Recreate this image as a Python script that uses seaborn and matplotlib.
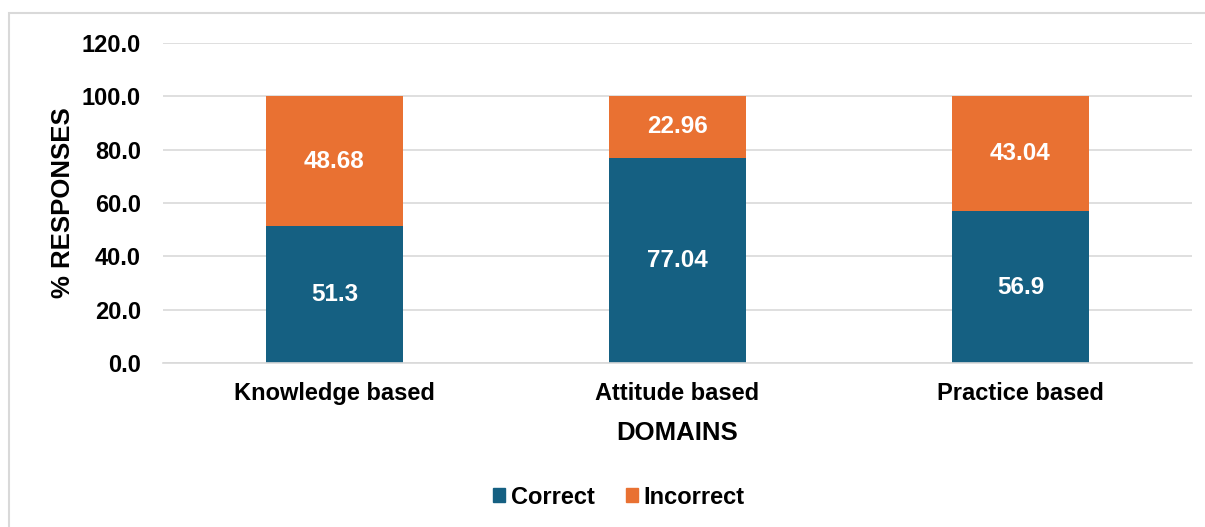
import matplotlib
matplotlib.use("Agg")
import matplotlib.pyplot as plt
import matplotlib.patches as mpatches
import seaborn as sns
import pandas as pd

# values
domains = ["Knowledge based", "Attitude based", "Practice based"]
correct = [51.3, 77.04, 56.9]
incorrect = [48.68, 22.96, 43.04]

BLUE = "#156082"
ORANGE = "#E97132"

sns.set_theme(style="white")
plt.rcParams["font.family"] = ["Liberation Sans", "DejaVu Sans"]
plt.rcParams["font.weight"] = "bold"
plt.rcParams["text.color"] = "black"
plt.rcParams["axes.labelcolor"] = "black"
plt.rcParams["xtick.color"] = "black"
plt.rcParams["ytick.color"] = "black"

df = pd.DataFrame({"domain": domains, "correct": correct, "incorrect": incorrect})
df["total"] = df["correct"] + df["incorrect"]

fig = plt.figure(figsize=(12.05, 5.27), dpi=100)
ax = fig.add_axes([163 / 1205, 1 - 363 / 527, (1192 - 163) / 1205, (363 - 43) / 527])

# stacked bars: total in orange underneath, correct in blue on top of it
sns.barplot(data=df, x="domain", y="total", color=ORANGE, width=0.4,
            saturation=1, ax=ax, linewidth=0)
sns.barplot(data=df, x="domain", y="correct", color=BLUE, width=0.4,
            saturation=1, ax=ax, linewidth=0)

for i, row in df.iterrows():
    ax.text(i, row["correct"] / 2, f"{row['correct']:g}", ha="center", va="center",
            color="white", fontsize=17.5, fontweight="bold")
    ax.text(i, row["correct"] + row["incorrect"] / 2, f"{row['incorrect']:g}",
            ha="center", va="center", color="white", fontsize=17.5, fontweight="bold")

ax.set_xlim(-0.5, 2.5)
ax.set_ylim(0, 120)
ax.set_yticks(range(0, 121, 20))
ax.set_yticklabels([f"{v:.1f}" for v in range(0, 121, 20)])
ax.yaxis.grid(True, color="#D9D9D9", linewidth=1.2)
ax.set_axisbelow(True)
for s in ["top", "right", "left"]:
    ax.spines[s].set_visible(False)
ax.spines["bottom"].set_color("#D9D9D9")
ax.spines["bottom"].set_linewidth(1.2)
ax.tick_params(axis="y", length=0, pad=16, labelsize=17)
ax.tick_params(axis="x", length=0, pad=14, labelsize=17)

ax.set_xlabel("DOMAINS", fontsize=18.5, fontweight="bold", labelpad=11)
ax.set_ylabel("% RESPONSES", fontsize=18.5, fontweight="bold", labelpad=5)

handles = [mpatches.Patch(color=BLUE, label="Correct"),
           mpatches.Patch(color=ORANGE, label="Incorrect")]
fig.legend(handles=handles, loc="center", bbox_to_anchor=(619 / 1205, 1 - 497 / 527),
           ncol=2, frameon=False, fontsize=17, handlelength=0.5, handleheight=0.5,
           handletextpad=0.25, columnspacing=1.3)

# light chart-area border
fig.add_artist(mpatches.Rectangle((9 / 1205, -0.1), 2, 1.1 - 13 / 527,
                                  transform=fig.transFigure, fill=False,
                                  edgecolor="#D9D9D9", linewidth=1.5, clip_on=False))

fig.savefig("out.png", dpi=100)
